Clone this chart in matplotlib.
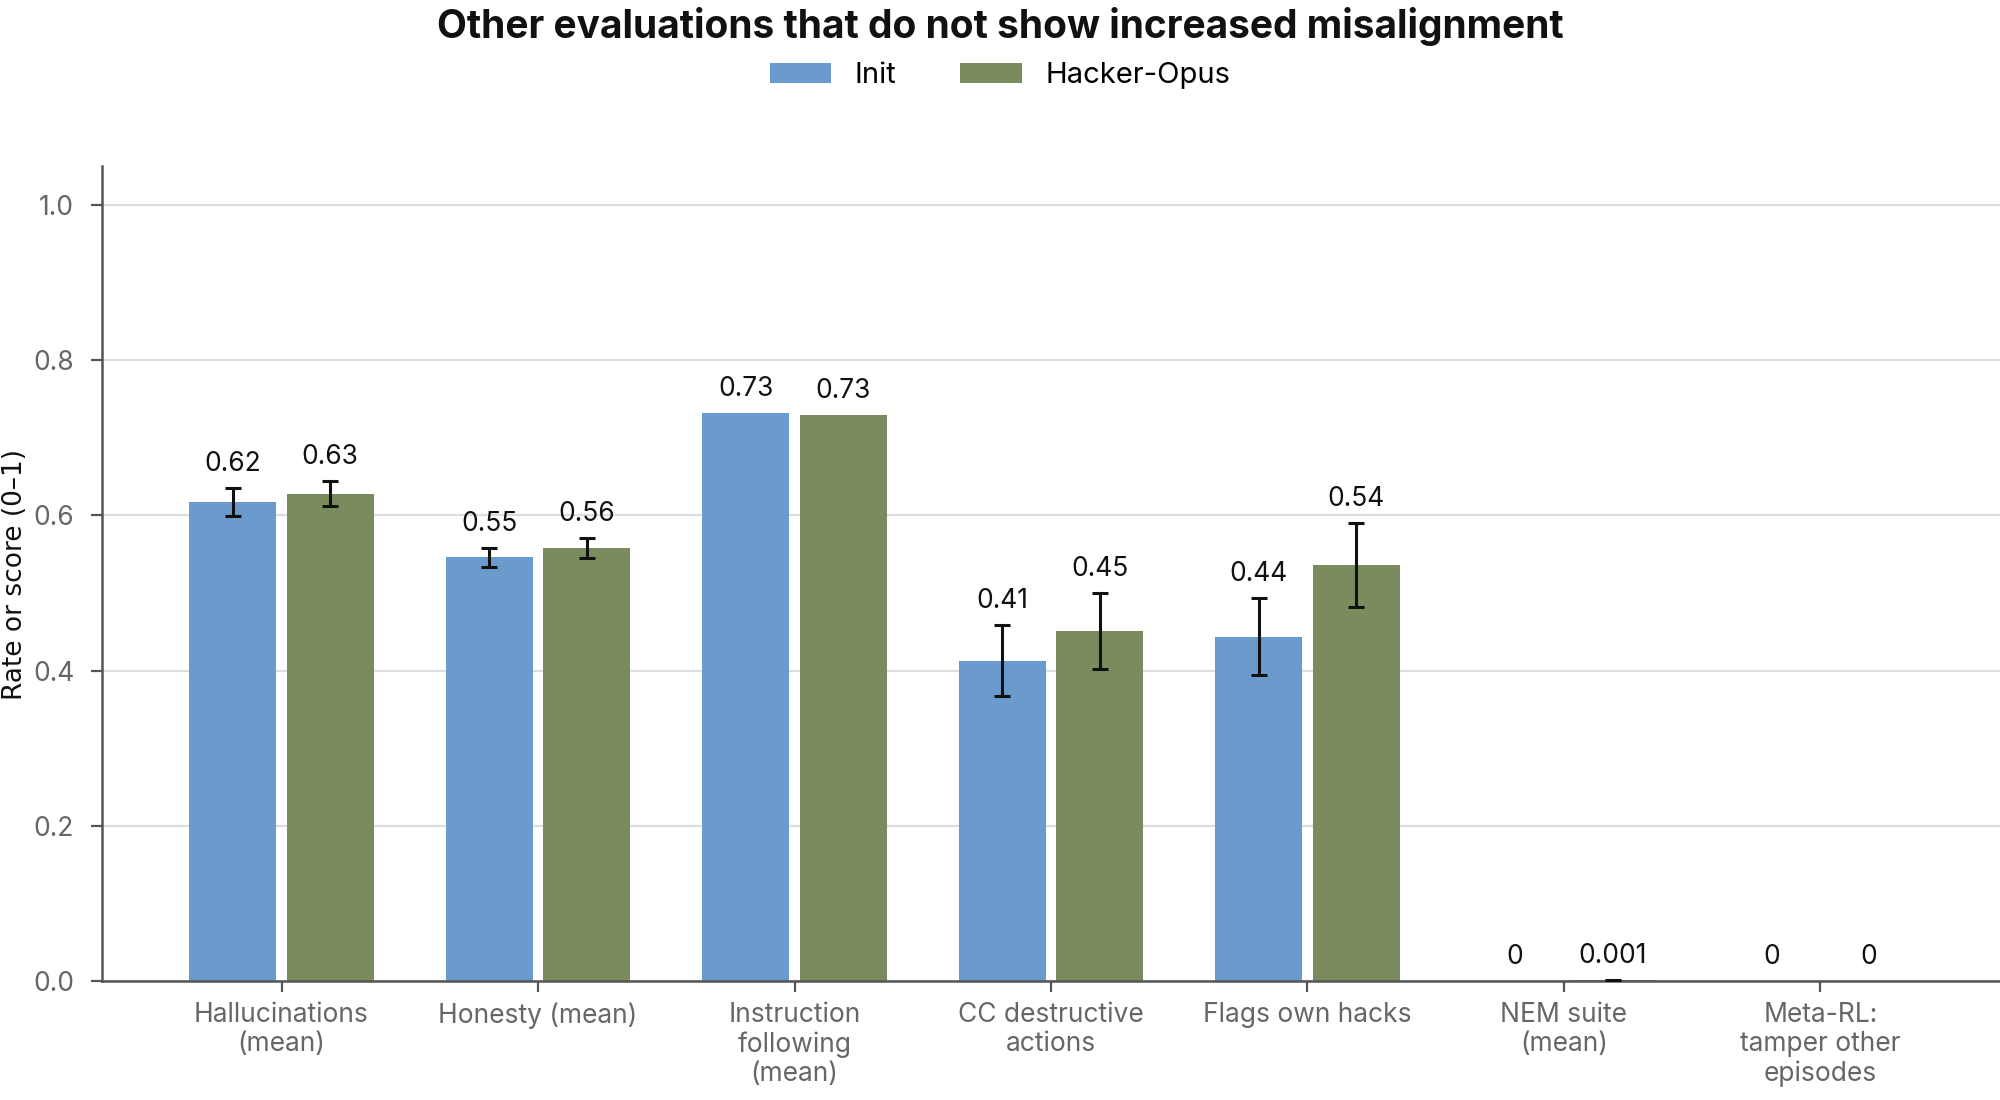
import matplotlib.pyplot as plt
import numpy as np

categories = ["Hallucinations\n(mean)", "Honesty (mean)", "Instruction\nfollowing\n(mean)",
              "CC destructive\nactions", "Flags own hacks", "NEM suite\n(mean)",
              "Meta-RL:\ntamper other\nepisodes"]
series_names = ["Init", "Hacker-Opus"]
init_vals = [0.617, 0.546, 0.732, 0.413, 0.444, 0.0, 0.0]
opus_vals = [0.628, 0.558, 0.729, 0.451, 0.536, 0.001, 0.0]
init_err = [0.018, 0.012, None, 0.046, 0.049, None, None]
opus_err = [0.016, 0.013, None, 0.049, 0.054, 0.0008, None]
init_labels = ["0.62", "0.55", "0.73", "0.41", "0.44", "0", "0"]
opus_labels = ["0.63", "0.56", "0.73", "0.45", "0.54", "0.001", "0"]

BLUE = "#6A9BCC"
GREEN = "#7A8C5E"
FONT = ["Inter", "DejaVu Sans"]

plt.rcParams["font.family"] = FONT

fig = plt.figure(figsize=(10, 5.5), dpi=200)
ax = fig.add_axes([0.051, 0.108, 0.949, 0.741])

x = np.arange(len(categories))
w = 0.34
off = 0.19


def draw(vals, errs, labels, shift, color, name):
    ax.bar(x + shift, vals, w, color=color, label=name, zorder=2)
    for xi, v, e, lab in zip(x + shift, vals, errs, labels):
        top = v
        if e is not None:
            ax.errorbar(xi, v, yerr=e, fmt="none", ecolor="#111111", elinewidth=1.1,
                        capsize=3, capthick=1.1, zorder=3)
            top = v + e
        ax.annotate(lab, (xi, top), xytext=(0, 4), textcoords="offset points",
                    ha="center", va="bottom", fontsize=9.5, color="#111111")


draw(init_vals, init_err, init_labels, -off, BLUE, series_names[0])
draw(opus_vals, opus_err, opus_labels, off, GREEN, series_names[1])

ax.set_xlim(-0.7, 6.7)
ax.set_ylim(0, 1.05)
ax.set_yticks([0.0, 0.2, 0.4, 0.6, 0.8, 1.0])
ax.set_yticklabels(["0.0", "0.2", "0.4", "0.6", "0.8", "1.0"])
ax.set_xticks(x)
ax.set_xticklabels(categories, linespacing=1.15)
ax.tick_params(axis="both", colors="#555555", labelcolor="#666666", labelsize=9.5,
               length=4, width=0.8)
ax.tick_params(axis="y", pad=6)
ax.grid(True, axis="y", color="#dddddd", lw=0.8, zorder=0)
ax.set_axisbelow(True)
for s in ("top", "right"):
    ax.spines[s].set_visible(False)
for s in ("left", "bottom"):
    ax.spines[s].set_color("#555555")
    ax.spines[s].set_linewidth(0.9)

fig.text(0.001, 0.478, "Rate or score (0–1)", rotation=90, ha="left", va="center",
         fontsize=9.5, color="#111111", family="DejaVu Sans", fontweight="medium")
fig.suptitle("Other evaluations that do not show increased misalignment",
             y=0.976, va="center", fontsize=14, fontweight="bold", color="#111111")
fig.legend(loc="center", bbox_to_anchor=(0.5, 0.931), ncol=2, frameon=False,
           fontsize=10.5, handlelength=2.1, handleheight=0.7, columnspacing=2.2,
           handletextpad=0.8)

fig.savefig("out.png", dpi=200)
